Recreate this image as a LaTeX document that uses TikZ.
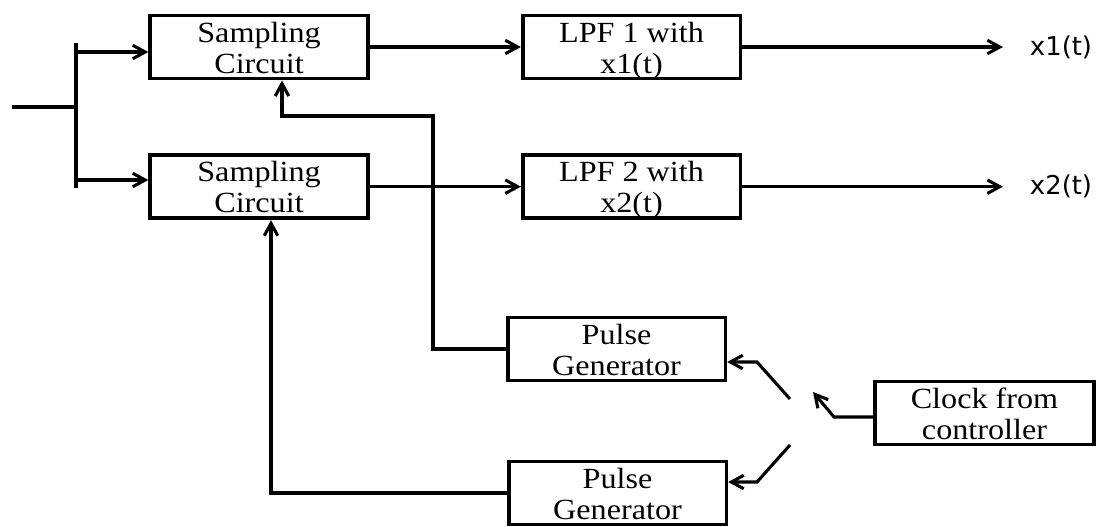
\documentclass[tikz,border=0pt]{standalone}
\usepackage{fontspec}
\setmainfont{Liberation Serif}[FakeStretch=1.1]
\newfontfamily\sigfont{DejaVu Sans}
\usepackage{tikz}
\usetikzlibrary{arrows.meta, positioning, calc}
\tikzset{
  block/.style={
    rectangle, draw=black, line width=1.3pt,
    minimum width=2.72cm, minimum height=0.79cm,
    inner sep=0pt, align=center,
    text height=18.7pt, text depth=0.2pt,
    font=\fontsize{10.4}{11}\selectfont,
  },
  wire/.style={line width=1.1pt, color=black},
  arrow/.style={wire, -{Straight Barb[length=4.4pt, width=4.8pt]}},
  siglabel/.style={inner sep=0pt, font=\sigfont\fontsize{9.2}{11}\selectfont},
}

\begin{document}
\begin{tikzpicture}[x=0.0125cm, y=-0.0125cm]
  \useasboundingbox (0,0) rectangle (1096,527);

  \node[block] (samp1) at (259,47) {Sampling\\Circuit};
  \node[block, below=0.91cm of samp1] (samp2) {Sampling\\Circuit};
  \node[block, right=1.89cm of samp1] (lpf1) {LPF 1 with\\x1(t)};
  \node[block, right=1.89cm of samp2] (lpf2) {LPF 2 with\\x2(t)};
  \node[block] (pulse1) at (616.5,349) {Pulse\\Generator};
  \node[block] (pulse2) at (617.5,493) {Pulse\\Generator};
  \node[block, minimum width=2.74cm] (clock) at (984.5,413) {Clock from\\controller};

  % input split into the two sampling circuits
  \coordinate (in) at (12,107);
  \coordinate (split) at (76,107);
  \coordinate (bustop) at (76,43);
  \coordinate (busbot) at (76,188);
  \coordinate (tap1) at (76,52);
  \coordinate (tap2) at (76,180);
  \draw[wire] (in) -- (split);
  \draw[wire] (bustop) -- (busbot);
  \draw[arrow] (tap1) -- (tap1 -| samp1.west);
  \draw[arrow] (tap2) -- (tap2 -| samp2.west);

  % filters and outputs
  \coordinate (out1) at (1003,47);
  \coordinate (out2) at (lpf2.east -| out1);
  \draw[arrow] (samp1) -- (lpf1);
  \draw[arrow] (samp2) -- (lpf2);
  \draw[arrow] (lpf1.east) -- (out1);
  \draw[arrow] (lpf2.east) -- (out2);
  \node[siglabel, right=0.33cm of out1] (x1) {x1(t)};
  \node[siglabel, right=0.33cm of out2] (x2) {x2(t)};

  % pulses back to the sampling circuits
  \coordinate (fb1) at (433,116);
  \draw[arrow] (pulse1.west) -| (fb1) -| ($(samp1.south)+(23,0)$);
  \draw[arrow] (pulse2.west) -| ($(samp2.south)+(12,0)$);

  % clock switch
  \coordinate (knee) at (834,417);
  \coordinate (pole) at (813,392);
  \coordinate (contact1) at (790,399);
  \coordinate (bend1) at (757,362);
  \coordinate (contact2) at (790,445);
  \coordinate (bend2) at (757,482);
  \draw[arrow] (clock.west |- knee) -- (knee) -- (pole);
  \draw[arrow] (contact1) -- (bend1) -- (bend1 -| pulse1.east);
  \draw[arrow] (contact2) -- (bend2) -- (bend2 -| pulse2.east);

\end{tikzpicture}
\end{document}
